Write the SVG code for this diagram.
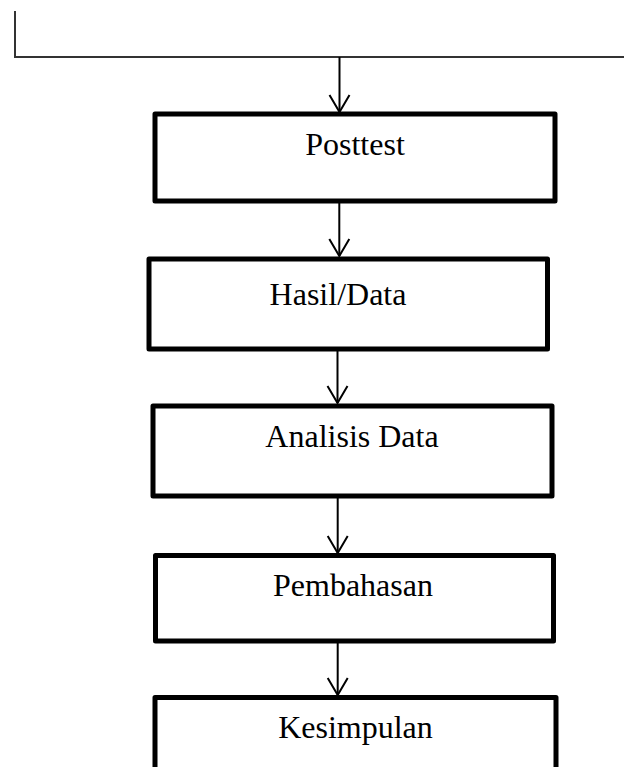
<svg xmlns="http://www.w3.org/2000/svg" width="624" height="767" viewBox="0 0 624 767">
<style>
.box{fill:#fff;stroke:#000;stroke-width:5;stroke-linejoin:round}
.lbl{font-family:"Liberation Serif","Times New Roman",serif;font-size:32px;fill:#000;text-anchor:middle}
.con{fill:none;stroke:#000;stroke-width:2}
.top{fill:none;stroke:#333;stroke-width:2}
</style>
<defs>
<marker id="arr" markerUnits="userSpaceOnUse" viewBox="-19 -12 21 24" refX="0" refY="0" markerWidth="21" markerHeight="24" orient="auto">
<path d="M-17,-10 L0,0 L-17,10" fill="none" stroke="#000" stroke-width="2"/>
</marker>
</defs>
<g id="connectors">
<path class="top" d="M15,11 V57 H624"/>
<line class="con" x1="339.5" y1="57" x2="339.5" y2="112" marker-end="url(#arr)"/>
<line class="con" x1="339.3" y1="201" x2="339.3" y2="256" marker-end="url(#arr)"/>
<line class="con" x1="337.5" y1="349" x2="337.5" y2="403" marker-end="url(#arr)"/>
<line class="con" x1="337.7" y1="496" x2="337.7" y2="553" marker-end="url(#arr)"/>
<line class="con" x1="337.7" y1="641" x2="337.7" y2="695" marker-end="url(#arr)"/>
</g>
<g id="posttest">
<rect class="box" x="155" y="114" width="400" height="87"/>
<text class="lbl" x="355" y="155">Posttest</text>
</g>
<g id="hasil">
<rect class="box" x="149" y="259" width="398.5" height="90"/>
<text class="lbl" x="338" y="305">Hasil/Data</text>
</g>
<g id="analisis">
<rect class="box" x="153" y="406" width="399" height="90"/>
<text class="lbl" x="352" y="447">Analisis Data</text>
</g>
<g id="pembahasan">
<rect class="box" x="155.5" y="555.5" width="398" height="85.5"/>
<text class="lbl" x="353" y="596">Pembahasan</text>
</g>
<g id="kesimpulan">
<rect class="box" x="155" y="697.5" width="401" height="100"/>
<text class="lbl" x="355.5" y="738">Kesimpulan</text>
</g>
</svg>
